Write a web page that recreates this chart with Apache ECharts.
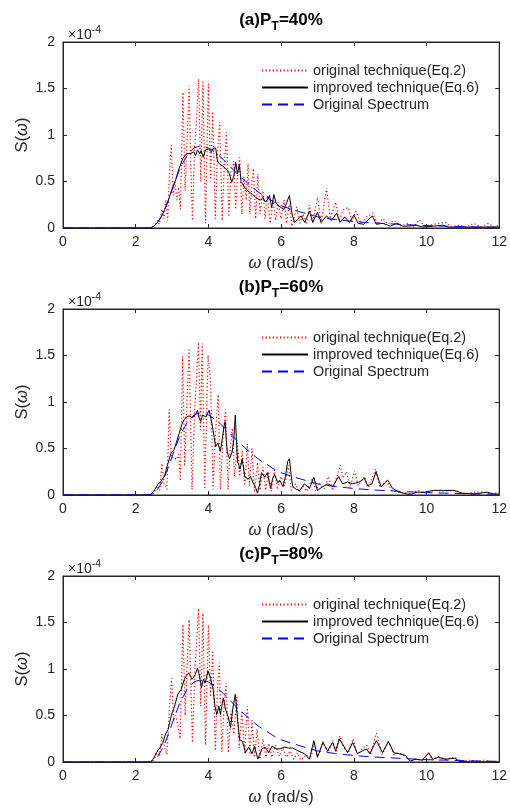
<!DOCTYPE html>
<html>
<head>
<meta charset="utf-8">
<script src="https://cdn.jsdelivr.net/npm/echarts@6/dist/echarts.min.js"></script>
<style>
html, body { margin: 0; padding: 0; background: #fff; }
#chart { width: 510px; height: 809px; }
</style>
</head>
<body>
<div id="chart"></div>
<script>
// axis ticks (S values are in units of 1e-4)
const xTicks = [0, 2, 4, 6, 8, 10, 12];
const yTicks = [0, 0.5, 1, 1.5, 2];

const seriesNames = ['original technique(Eq.2)', 'improved technique(Eq.6)', 'Original Spectrum'];
const panelLabels = ['(a)', '(b)', '(c)'];
const panelPT = ['40%', '60%', '80%'];

// target spectrum, same in every panel
const origSpectrum = [[0,0],[2.4,0],[2.5,0.02],[2.6,0.06],[2.7,0.12],[2.8,0.2],[2.9,0.3],[3.0,0.41],[3.1,0.52],[3.2,0.62],[3.3,0.7],[3.4,0.77],[3.5,0.82],[3.6,0.86],[3.7,0.875],[3.8,0.88],[3.9,0.875],[4.0,0.86],[4.2,0.81],[4.4,0.74],[4.6,0.66],[4.8,0.58],[5.0,0.51],[5.2,0.44],[5.4,0.38],[5.6,0.33],[5.8,0.28],[6.0,0.24],[6.3,0.2],[6.6,0.165],[7.0,0.12],[7.5,0.09],[8.0,0.07],[8.5,0.055],[9.0,0.045],[9.5,0.035],[10,0.025],[10.5,0.02],[11,0.015],[11.5,0.01],[12,0.008]];

// (a) P_T = 40%
const origA = [[0,0],[2.4,0],[2.5,0.02],[2.6,0.08],[2.65,0.04],[2.72,0.2],[2.78,0.1],[2.83,0.3],[2.88,0.08],[2.93,0.6],[2.98,0.89],[3.03,0.35],[3.08,0.5],[3.13,0.3],[3.18,0.44],[3.23,0.2],[3.3,1.46],[3.36,0.4],[3.41,0.9],[3.47,1.53],[3.52,0.6],[3.56,0.08],[3.62,0.85],[3.68,1.2],[3.73,1.6],[3.79,0.5],[3.85,1.57],[3.92,0.05],[4.0,1.55],[4.06,0.5],[4.12,1.25],[4.19,0.1],[4.25,0.8],[4.31,1.14],[4.38,0.08],[4.44,0.7],[4.5,1.03],[4.56,0.12],[4.62,0.6],[4.7,0.72],[4.75,0.2],[4.8,0.55],[4.86,0.76],[4.92,0.15],[4.98,0.55],[5.04,0.3],[5.09,0.69],[5.14,0.15],[5.2,0.5],[5.24,0.64],[5.3,0.1],[5.36,0.58],[5.42,0.15],[5.5,0.4],[5.56,0.1],[5.62,0.35],[5.7,0.05],[5.78,0.3],[5.85,0.08],[5.92,0.28],[6.0,0.1],[6.08,0.3],[6.15,0.05],[6.22,0.25],[6.3,0.02],[6.43,0.23],[6.52,0.05],[6.6,0.15],[6.7,0.04],[6.78,0.25],[6.87,0.05],[7.0,0.33],[7.1,0.05],[7.25,0.43],[7.35,0.1],[7.5,0.28],[7.6,0.08],[7.72,0.2],[7.85,0.22],[7.95,0.06],[8.05,0.18],[8.2,0.05],[8.35,0.12],[8.53,0.16],[8.65,0.04],[8.8,0.1],[8.95,0.04],[9.1,0.08],[9.3,0.02],[9.5,0.05],[9.65,0.01],[9.8,0.09],[9.95,0.02],[10.2,0.04],[10.54,0.06],[10.7,0.01],[10.9,0.03],[11.1,0.01],[11.3,0.05],[11.5,0.01],[11.7,0.05],[11.85,0.01],[12,0.03]];
const improvedA = [[0,0],[2.42,0],[2.5,0.02],[2.6,0.06],[2.7,0.12],[2.8,0.2],[2.9,0.3],[3.0,0.42],[3.1,0.52],[3.2,0.65],[3.3,0.75],[3.4,0.8],[3.5,0.8],[3.6,0.82],[3.65,0.78],[3.7,0.84],[3.76,0.8],[3.8,0.83],[3.86,0.76],[3.92,0.84],[4.0,0.85],[4.08,0.82],[4.14,0.86],[4.2,0.86],[4.25,0.72],[4.3,0.69],[4.38,0.67],[4.45,0.65],[4.52,0.62],[4.58,0.58],[4.64,0.49],[4.7,0.56],[4.75,0.71],[4.8,0.58],[4.85,0.68],[4.9,0.5],[4.96,0.46],[5.02,0.42],[5.08,0.4],[5.15,0.38],[5.22,0.36],[5.3,0.33],[5.38,0.31],[5.45,0.3],[5.5,0.33],[5.56,0.28],[5.62,0.3],[5.68,0.35],[5.74,0.22],[5.8,0.36],[5.86,0.27],[5.92,0.24],[6.0,0.22],[6.08,0.2],[6.15,0.27],[6.23,0.35],[6.3,0.15],[6.37,0.06],[6.45,0.09],[6.55,0.13],[6.65,0.06],[6.78,0.18],[6.87,0.06],[7.0,0.17],[7.1,0.06],[7.25,0.13],[7.38,0.08],[7.53,0.16],[7.62,0.06],[7.75,0.12],[7.88,0.06],[8.0,0.14],[8.12,0.05],[8.27,0.04],[8.4,0.09],[8.51,0.13],[8.62,0.04],[8.8,0.05],[9.0,0.02],[9.17,0.05],[9.35,0.02],[9.5,0.02],[9.71,0.03],[9.9,0.01],[10.2,0.02],[10.45,0.03],[10.6,0.01],[11,0.01],[12,0.01]];

// (b) P_T = 60%
const origB = [[0,0],[2.4,0],[2.5,0.02],[2.6,0.1],[2.66,0.05],[2.72,0.34],[2.78,0.12],[2.86,0.06],[2.92,0.92],[2.98,0.4],[3.05,0.41],[3.12,0.38],[3.18,0.44],[3.23,0.15],[3.29,1.49],[3.35,0.31],[3.41,1.0],[3.47,1.58],[3.55,0.06],[3.62,0.9],[3.73,1.64],[3.78,0.7],[3.83,1.63],[3.9,0.06],[3.99,1.5],[4.06,1.22],[4.13,0.06],[4.2,0.7],[4.27,1.08],[4.33,0.06],[4.4,0.6],[4.47,0.92],[4.54,0.06],[4.6,0.5],[4.66,0.72],[4.72,0.2],[4.8,0.56],[4.86,0.2],[4.93,0.48],[5.0,0.1],[5.07,0.55],[5.13,0.1],[5.2,0.5],[5.27,0.03],[5.35,0.35],[5.42,0.05],[5.5,0.3],[5.57,0.05],[5.65,0.25],[5.73,0.04],[5.82,0.27],[5.9,0.06],[6.0,0.2],[6.1,0.1],[6.2,0.32],[6.28,0.05],[6.4,0.12],[6.5,0.03],[6.6,0.1],[6.7,0.04],[6.85,0.18],[6.95,0.05],[7.05,0.12],[7.2,0.07],[7.3,0.2],[7.42,0.05],[7.55,0.22],[7.63,0.32],[7.7,0.18],[7.8,0.25],[7.9,0.08],[8.02,0.26],[8.12,0.1],[8.3,0.2],[8.4,0.08],[8.6,0.28],[8.72,0.08],[8.9,0.15],[9.05,0.05],[9.25,0.03],[9.45,0.02],[9.6,0.01],[9.75,0.05],[9.95,0.02],[10.2,0.05],[10.5,0.04],[10.8,0.05],[11.0,0.01],[11.3,0.03],[11.6,0.03],[11.8,0.01],[12,0.03]];
const improvedB = [[0,0],[2.4,0],[2.5,0.04],[2.6,0.11],[2.7,0.15],[2.79,0.2],[2.88,0.33],[2.97,0.45],[3.06,0.49],[3.13,0.58],[3.2,0.67],[3.27,0.76],[3.33,0.81],[3.4,0.84],[3.47,0.85],[3.56,0.83],[3.63,0.86],[3.7,0.91],[3.75,0.82],[3.79,0.79],[3.84,0.86],[3.88,0.88],[3.93,0.84],[3.97,0.82],[4.02,0.91],[4.07,0.82],[4.11,0.74],[4.16,0.62],[4.2,0.52],[4.26,0.56],[4.33,0.47],[4.38,0.6],[4.43,0.74],[4.46,0.79],[4.49,0.6],[4.52,0.46],[4.58,0.39],[4.65,0.46],[4.7,0.6],[4.74,0.86],[4.77,0.6],[4.8,0.36],[4.87,0.28],[4.93,0.39],[5.0,0.2],[5.09,0.17],[5.16,0.2],[5.23,0.13],[5.3,0.08],[5.35,0.02],[5.41,0.12],[5.46,0.24],[5.55,0.19],[5.62,0.24],[5.71,0.07],[5.77,0.18],[5.82,0.22],[5.91,0.13],[5.96,0.16],[6.05,0.09],[6.12,0.2],[6.18,0.36],[6.23,0.39],[6.28,0.2],[6.32,0.09],[6.42,0.06],[6.51,0.05],[6.64,0.12],[6.78,0.07],[6.9,0.19],[7.0,0.05],[7.15,0.09],[7.28,0.12],[7.42,0.09],[7.58,0.2],[7.69,0.12],[7.83,0.14],[7.97,0.12],[8.15,0.14],[8.29,0.18],[8.38,0.1],[8.5,0.12],[8.61,0.25],[8.75,0.09],[8.93,0.16],[9.07,0.07],[9.25,0.03],[9.48,0.01],[9.6,0.01],[9.74,0.03],[9.95,0.03],[10.2,0.05],[10.47,0.05],[10.75,0.05],[10.98,0.02],[11.3,0.01],[11.67,0.03],[11.85,0.01],[12,0.01]];

// (c) P_T = 80%
const origC = [[0,0],[2.4,0],[2.5,0.02],[2.6,0.12],[2.66,0.06],[2.72,0.3],[2.8,0.15],[2.86,0.08],[2.93,0.6],[2.99,0.9],[3.04,0.45],[3.1,0.5],[3.16,0.4],[3.22,0.25],[3.3,1.48],[3.36,0.5],[3.41,1.0],[3.47,1.53],[3.56,0.21],[3.63,1.0],[3.73,1.65],[3.79,0.6],[3.85,1.6],[3.92,0.18],[4.0,1.47],[4.06,0.7],[4.12,1.2],[4.19,0.12],[4.25,0.8],[4.3,1.07],[4.37,0.11],[4.43,0.6],[4.49,0.85],[4.55,0.1],[4.62,0.55],[4.7,0.3],[4.78,0.7],[4.85,0.15],[4.92,0.55],[5.0,0.1],[5.07,0.6],[5.14,0.08],[5.2,0.45],[5.27,0.05],[5.34,0.35],[5.42,0.03],[5.5,0.25],[5.58,0.05],[5.66,0.2],[5.75,0.05],[5.85,0.18],[5.95,0.06],[6.05,0.15],[6.15,0.05],[6.25,0.12],[6.35,0.03],[6.45,0.1],[6.55,0.02],[6.7,0.08],[6.8,0.03],[6.92,0.2],[7.0,0.06],[7.15,0.22],[7.28,0.1],[7.42,0.23],[7.52,0.1],[7.62,0.28],[7.72,0.15],[7.85,0.1],[7.98,0.25],[8.1,0.08],[8.25,0.15],[8.36,0.18],[8.46,0.08],[8.62,0.31],[8.78,0.08],[8.95,0.22],[9.1,0.08],[9.25,0.1],[9.42,0.06],[9.55,0.01],[9.7,0.03],[9.9,0.02],[10.06,0.1],[10.18,0.02],[10.33,0.06],[10.5,0.03],[10.78,0.05],[10.95,0.01],[11.2,0.02],[11.4,0.01],[11.6,0.02],[11.8,0],[12,0]];
const improvedC = [[0,0],[2.4,0],[2.48,0.03],[2.57,0.1],[2.66,0.15],[2.75,0.21],[2.82,0.3],[2.89,0.35],[2.98,0.5],[3.07,0.6],[3.16,0.73],[3.25,0.78],[3.34,0.89],[3.4,0.93],[3.46,0.96],[3.55,0.89],[3.64,0.94],[3.7,1.01],[3.74,0.95],[3.77,0.89],[3.81,0.8],[3.86,0.89],[3.91,0.85],[3.99,0.98],[4.06,0.9],[4.13,0.78],[4.18,0.6],[4.23,0.51],[4.29,0.6],[4.33,0.51],[4.41,0.69],[4.47,0.57],[4.54,0.49],[4.61,0.37],[4.67,0.57],[4.74,0.73],[4.8,0.46],[4.86,0.24],[4.94,0.22],[5.02,0.1],[5.11,0.16],[5.2,0.09],[5.27,0.17],[5.36,0.03],[5.47,0.14],[5.56,0.16],[5.66,0.1],[5.75,0.17],[5.88,0.14],[5.96,0.14],[6.1,0.16],[6.2,0.15],[6.32,0.15],[6.46,0.12],[6.64,0.09],[6.78,0.03],[6.9,0.23],[7.0,0.05],[7.15,0.21],[7.28,0.12],[7.42,0.21],[7.5,0.12],[7.6,0.25],[7.71,0.18],[7.83,0.1],[7.97,0.21],[8.1,0.09],[8.24,0.12],[8.35,0.14],[8.44,0.09],[8.62,0.23],[8.79,0.1],[8.95,0.22],[9.1,0.1],[9.24,0.09],[9.42,0.07],[9.55,0.01],[9.69,0.03],[9.88,0.02],[10.06,0.1],[10.17,0.03],[10.33,0.05],[10.51,0.03],[10.78,0.04],[10.92,0.005],[11.2,0],[12,0]];

const origData = [origA, origB, origC];
const improvedData = [improvedA, improvedB, improvedC];

document.addEventListener('DOMContentLoaded', function() {
    const chart = echarts.init(document.getElementById('chart'));

    const font = "'Liberation Sans', Arial, Helvetica, sans-serif";
    const axisColor = '#262626';
    const gridTops = [42, 309, 576];
    const gridH = 186;
    const gridLeft = 63;
    const gridRight = 10;

    const grids = [], xAxes = [], yAxes = [], series = [], titles = [], legends = [];

    gridTops.forEach(function(top, i) {
        // grid border gives the closed MATLAB style box
        grids.push({
            left: gridLeft, right: gridRight, top: top, height: gridH,
            show: true, borderColor: axisColor, borderWidth: 1, backgroundColor: 'transparent'
        });

        // bottom axis with labels
        xAxes.push({
            type: 'value', gridIndex: i, position: 'bottom',
            min: xTicks[0], max: xTicks[xTicks.length - 1], interval: xTicks[1] - xTicks[0],
            name: '{w|ω} (rad/s)', nameLocation: 'middle', nameGap: 27,
            nameTextStyle: {
                fontFamily: font, fontSize: 16.5, color: axisColor,
                rich: { w: { fontFamily: font, fontSize: 16.5, fontStyle: 'italic', color: axisColor } }
            },
            axisLine: { show: true, onZero: false, lineStyle: { color: axisColor, width: 1 } },
            axisTick: { show: true, inside: true, length: 4, lineStyle: { color: axisColor } },
            axisLabel: { fontFamily: font, fontSize: 14, color: axisColor, margin: 7 },
            splitLine: { show: false }
        });
        // left axis with labels
        yAxes.push({
            type: 'value', gridIndex: i, position: 'left',
            min: yTicks[0], max: yTicks[yTicks.length - 1], interval: yTicks[1] - yTicks[0],
            name: 'S({w|ω})', nameLocation: 'middle', nameGap: 32, nameRotate: 90,
            nameMoveOverlap: false,
            nameTextStyle: {
                fontFamily: font, fontSize: 16.5, color: axisColor,
                rich: { w: { fontFamily: font, fontSize: 16.5, fontStyle: 'italic', color: axisColor } }
            },
            axisLine: { show: true, onZero: false, lineStyle: { color: axisColor, width: 1 } },
            axisTick: { show: true, inside: true, length: 4, lineStyle: { color: axisColor } },
            axisLabel: { fontFamily: font, fontSize: 14, color: axisColor, margin: 8 },
            splitLine: { show: false }
        });

        series.push({
            name: seriesNames[0], type: 'line', xAxisIndex: i, yAxisIndex: i,
            data: origData[i], symbol: 'none', showSymbol: false, animation: false,
            lineStyle: { color: '#ff0000', width: 1.2, type: [1.2, 2.4] },
            itemStyle: { color: '#ff0000' }, z: 2
        });
        series.push({
            name: seriesNames[1], type: 'line', xAxisIndex: i, yAxisIndex: i,
            data: improvedData[i], symbol: 'none', showSymbol: false, animation: false,
            lineStyle: { color: '#000000', width: 1 },
            itemStyle: { color: '#000000' }, z: 3
        });
        series.push({
            name: seriesNames[2], type: 'line', xAxisIndex: i, yAxisIndex: i,
            data: origSpectrum, symbol: 'none', showSymbol: false, animation: false,
            lineStyle: { color: '#0000ff', width: 1, type: [10, 6] },
            itemStyle: { color: '#0000ff' }, z: 4
        });

        // panel title with subscript T
        titles.push({
            text: '{b|' + panelLabels[i] + 'P}{s|T}{b|=' + panelPT[i] + '}',
            left: 276, textAlign: 'center',
            top: top - 39,
            textStyle: {
                rich: {
                    b: { fontFamily: font, fontSize: 17, fontWeight: 'bold', color: '#000' },
                    s: { fontFamily: font, fontSize: 12.5, fontWeight: 'bold', color: '#000', padding: [12, 0, 0, 0] }
                }
            }
        });
        // exponent label
        titles.push({
            text: '{m|×10}{e|-4}',
            left: gridLeft, top: top - 22,
            textStyle: {
                fontWeight: 'normal',
                rich: {
                    m: { fontFamily: font, fontSize: 14, fontWeight: 'normal', color: axisColor },
                    e: { fontFamily: font, fontSize: 10.5, fontWeight: 'normal', color: axisColor, padding: [0, 0, 10, 0] }
                }
            }
        });

        legends.push({
            data: seriesNames, orient: 'vertical',
            left: 256, top: top + 16, itemGap: 2,
            itemWidth: 46, itemHeight: 13,
            itemStyle: { opacity: 0 },
            textStyle: { fontFamily: font, fontSize: 14.5, color: axisColor },
            selectedMode: false, backgroundColor: 'transparent', borderWidth: 0
        });
    });

    // ticks on top / right edges, no labels
    gridTops.forEach(function(top, i) {
        xAxes.push({
            type: 'value', gridIndex: i, position: 'top',
            min: xTicks[0], max: xTicks[xTicks.length - 1], interval: xTicks[1] - xTicks[0],
            axisLine: { show: true, onZero: false, lineStyle: { color: axisColor, width: 1 } },
            axisTick: { show: true, inside: true, length: 4, lineStyle: { color: axisColor } },
            axisLabel: { show: false }, splitLine: { show: false }
        });
        yAxes.push({
            type: 'value', gridIndex: i, position: 'right',
            min: yTicks[0], max: yTicks[yTicks.length - 1], interval: yTicks[1] - yTicks[0],
            axisLine: { show: true, onZero: false, lineStyle: { color: axisColor, width: 1 } },
            axisTick: { show: true, inside: true, length: 4, lineStyle: { color: axisColor } },
            axisLabel: { show: false }, splitLine: { show: false }
        });
    });

    const option = {
        animation: false,
        backgroundColor: '#ffffff',
        title: titles,
        legend: legends,
        grid: grids,
        xAxis: xAxes,
        yAxis: yAxes,
        series: series
    };
    chart.setOption(option);
});
</script>
</body>
</html>
